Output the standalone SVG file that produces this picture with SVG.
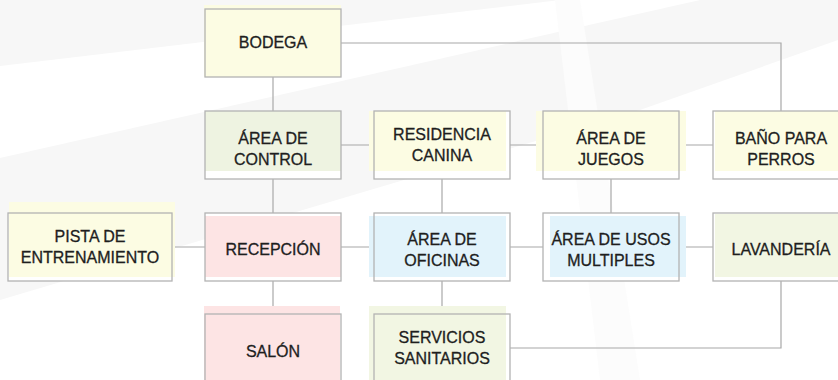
<svg xmlns="http://www.w3.org/2000/svg" width="838" height="380" viewBox="0 0 838 380">
<style>
.bg{fill:#f7f7f7}
.base{fill:#ffffff}
.frame{fill:none;stroke:#b3b3b3;stroke-width:1.3}
.lbl{font-family:"Liberation Sans",Arial,Helvetica,sans-serif;font-size:16px;fill:#1e1e1e;stroke:#1e1e1e;stroke-width:0.3;text-anchor:middle}
.conn{fill:none;stroke:#a8a8a8;stroke-width:1.2}
.yel{fill:#fcfce3}
.grn{fill:#eef3e1}
.lgr{fill:#f2f6e3}
.pnk{fill:#fde4e4}
.blu{fill:#e2f3fb}
</style>
<rect width="838" height="380" fill="#ffffff"/>
<g id="watermark">
<polygon class="bg" points="0,0 560,0 0,66"/>
<polygon class="bg" points="0,158 700,0 838,0 838,40 640,110 0,300"/>
<polygon fill="#fcfcfc" points="555,0 580,0 640,380 600,380"/>
</g>
<g id="connectors">
<polyline class="conn" points="341,43 781,43 781,111"/>
<line class="conn" x1="273" y1="77" x2="273" y2="111"/>
<line class="conn" x1="341" y1="145" x2="374" y2="145"/>
<line class="conn" x1="510" y1="145" x2="543" y2="145"/>
<line class="conn" x1="679" y1="145" x2="713" y2="145"/>
<line class="conn" x1="273" y1="179" x2="273" y2="213"/>
<line class="conn" x1="442" y1="179" x2="442" y2="213"/>
<line class="conn" x1="611" y1="179" x2="611" y2="213"/>
<line class="conn" x1="172" y1="247" x2="205" y2="247"/>
<line class="conn" x1="341" y1="247" x2="374" y2="247"/>
<line class="conn" x1="510" y1="247" x2="543" y2="247"/>
<line class="conn" x1="679" y1="247" x2="713" y2="247"/>
<line class="conn" x1="273" y1="281" x2="273" y2="314"/>
<line class="conn" x1="442" y1="281" x2="442" y2="314"/>
<polyline class="conn" points="781,281 781,348 510,348"/>
</g>
<g id="bodega">
<rect class="base" x="205" y="9" width="136" height="68"/>
<rect class="yel" x="204" y="5" width="137" height="72"/>
<rect class="frame" x="205" y="9" width="136" height="68"/>
<text class="lbl" x="273" y="48">BODEGA</text>
</g>
<g id="area-control">
<rect class="base" x="205" y="111" width="136" height="68"/>
<rect class="grn" x="205" y="111" width="136" height="60"/>
<rect class="frame" x="205" y="111" width="136" height="68"/>
<text class="lbl" x="273" y="144">ÁREA DE</text>
<text class="lbl" x="273" y="165">CONTROL</text>
</g>
<g id="residencia">
<rect class="base" x="374" y="111" width="136" height="68"/>
<rect class="yel" x="369" y="111" width="137" height="60"/>
<rect class="frame" x="374" y="111" width="136" height="68"/>
<text class="lbl" x="442" y="140">RESIDENCIA</text>
<text class="lbl" x="442" y="161">CANINA</text>
</g>
<g id="area-juegos">
<rect class="base" x="543" y="111" width="136" height="68"/>
<rect class="yel" x="536" y="111" width="150" height="60"/>
<rect class="frame" x="543" y="111" width="136" height="68"/>
<text class="lbl" x="611" y="144">ÁREA DE</text>
<text class="lbl" x="611" y="165">JUEGOS</text>
</g>
<g id="bano-perros">
<rect class="base" x="713" y="111" width="136" height="68"/>
<rect class="yel" x="715" y="111" width="134" height="60"/>
<rect class="frame" x="713" y="111" width="136" height="68"/>
<text class="lbl" x="781" y="144">BAÑO PARA</text>
<text class="lbl" x="781" y="165">PERROS</text>
</g>
<g id="pista">
<rect class="base" x="8" y="213" width="164" height="68"/>
<rect class="yel" x="9" y="202" width="166" height="75"/>
<rect class="frame" x="8" y="213" width="164" height="68"/>
<text class="lbl" x="90" y="242">PISTA DE</text>
<text class="lbl" x="90" y="263">ENTRENAMIENTO</text>
</g>
<g id="recepcion">
<rect class="base" x="205" y="213" width="136" height="68"/>
<rect class="pnk" x="205" y="216" width="136" height="61"/>
<rect class="frame" x="205" y="213" width="136" height="68"/>
<text class="lbl" x="273" y="255">RECEPCIÓN</text>
</g>
<g id="area-oficinas">
<rect class="base" x="374" y="213" width="136" height="68"/>
<rect class="blu" x="369" y="216" width="137" height="61"/>
<rect class="frame" x="374" y="213" width="136" height="68"/>
<text class="lbl" x="442" y="245">ÁREA DE</text>
<text class="lbl" x="442" y="266">OFICINAS</text>
</g>
<g id="area-usos">
<rect class="base" x="543" y="213" width="136" height="68"/>
<rect class="blu" x="550" y="216" width="136" height="61"/>
<rect class="frame" x="543" y="213" width="136" height="68"/>
<text class="lbl" x="611" y="245">ÁREA DE USOS</text>
<text class="lbl" x="611" y="266">MULTIPLES</text>
</g>
<g id="lavanderia">
<rect class="base" x="713" y="213" width="136" height="68"/>
<rect class="lgr" x="715" y="214" width="134" height="63"/>
<rect class="frame" x="713" y="213" width="136" height="68"/>
<text class="lbl" x="781" y="255">LAVANDERÍA</text>
</g>
<g id="salon">
<rect class="base" x="205" y="314" width="136" height="68"/>
<rect class="pnk" x="204" y="306" width="136" height="76"/>
<rect class="frame" x="205" y="314" width="136" height="68"/>
<text class="lbl" x="273" y="357">SALÓN</text>
</g>
<g id="servicios">
<rect class="base" x="374" y="314" width="136" height="68"/>
<rect class="lgr" x="369" y="306" width="137" height="76"/>
<rect class="frame" x="374" y="314" width="136" height="68"/>
<text class="lbl" x="442" y="343">SERVICIOS</text>
<text class="lbl" x="442" y="364">SANITARIOS</text>
</g>
</svg>
